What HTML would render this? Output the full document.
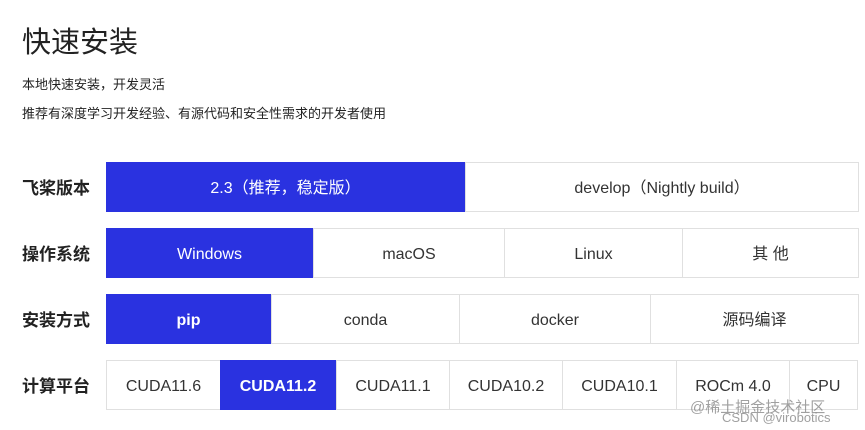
<!DOCTYPE html>
<html><head><meta charset="utf-8"><style>
body{margin:0;width:865px;height:430px;background:#fff;font-family:"Liberation Sans","Noto Sans CJK SC",sans-serif;position:relative;overflow:hidden;color:#222}
.a{position:absolute;white-space:nowrap}
.c{position:absolute;box-sizing:border-box;border:1px solid #e0e0e0;text-align:center;line-height:52px;height:50px;font-size:16px;color:#333;background:#fff;white-space:nowrap}
.c span{display:inline-block;vertical-align:middle;line-height:20px}
.b{background:#2a32e0;color:#fff;border-color:#2a32e0}
.l{position:absolute;left:22px;font-size:17px;font-weight:bold;color:#222;line-height:20px}
</style></head><body>
<div class="a" style="left:22px;top:19px;font-size:29px;color:#222">快速安装</div>
<div class="a" style="left:22px;top:74px;font-size:13px">本地快速安装，开发灵活</div>
<div class="a" style="left:22px;top:103px;font-size:13px">推荐有深度学习开发经验、有源代码和安全性需求的开发者使用</div>

<div class="l" style="top:179px">飞桨版本</div>
<div class="c b" style="left:106px;top:162px;width:359px"><span>2.3（推荐，稳定版）</span></div>
<div class="c" style="left:465px;top:162px;width:394px"><span>develop（Nightly build）</span></div>

<div class="l" style="top:245px">操作系统</div>
<div class="c b" style="left:106px;top:228px;width:207px"><span>Windows</span></div>
<div class="c" style="left:313px;top:228px;width:192px"><span>macOS</span></div>
<div class="c" style="left:504px;top:228px;width:179px"><span>Linux</span></div>
<div class="c" style="left:682px;top:228px;width:177px"><span>其 他</span></div>

<div class="l" style="top:311px">安装方式</div>
<div class="c b" style="left:106px;top:294px;width:165px;font-weight:bold"><span>pip</span></div>
<div class="c" style="left:271px;top:294px;width:189px"><span>conda</span></div>
<div class="c" style="left:459px;top:294px;width:192px"><span>docker</span></div>
<div class="c" style="left:650px;top:294px;width:209px"><span>源码编译</span></div>

<div class="l" style="top:377px">计算平台</div>
<div class="c" style="left:106px;top:360px;width:115px"><span>CUDA11.6</span></div>
<div class="c b" style="left:220px;top:360px;width:116px;font-weight:bold"><span>CUDA11.2</span></div>
<div class="c" style="left:336px;top:360px;width:114px"><span>CUDA11.1</span></div>
<div class="c" style="left:449px;top:360px;width:114px"><span>CUDA10.2</span></div>
<div class="c" style="left:562px;top:360px;width:115px"><span>CUDA10.1</span></div>
<div class="c" style="left:676px;top:360px;width:114px"><span>ROCm 4.0</span></div>
<div class="c" style="left:789px;top:360px;width:69px"><span>CPU</span></div>
<div class="a" style="left:690px;top:396px;font-size:15px;color:rgba(120,120,120,.7)">@稀土掘金技术社区</div>
<div class="a" style="left:722px;top:410px;font-size:13px;color:rgba(120,120,120,.7)">CSDN @virobotics</div>
</body></html>
